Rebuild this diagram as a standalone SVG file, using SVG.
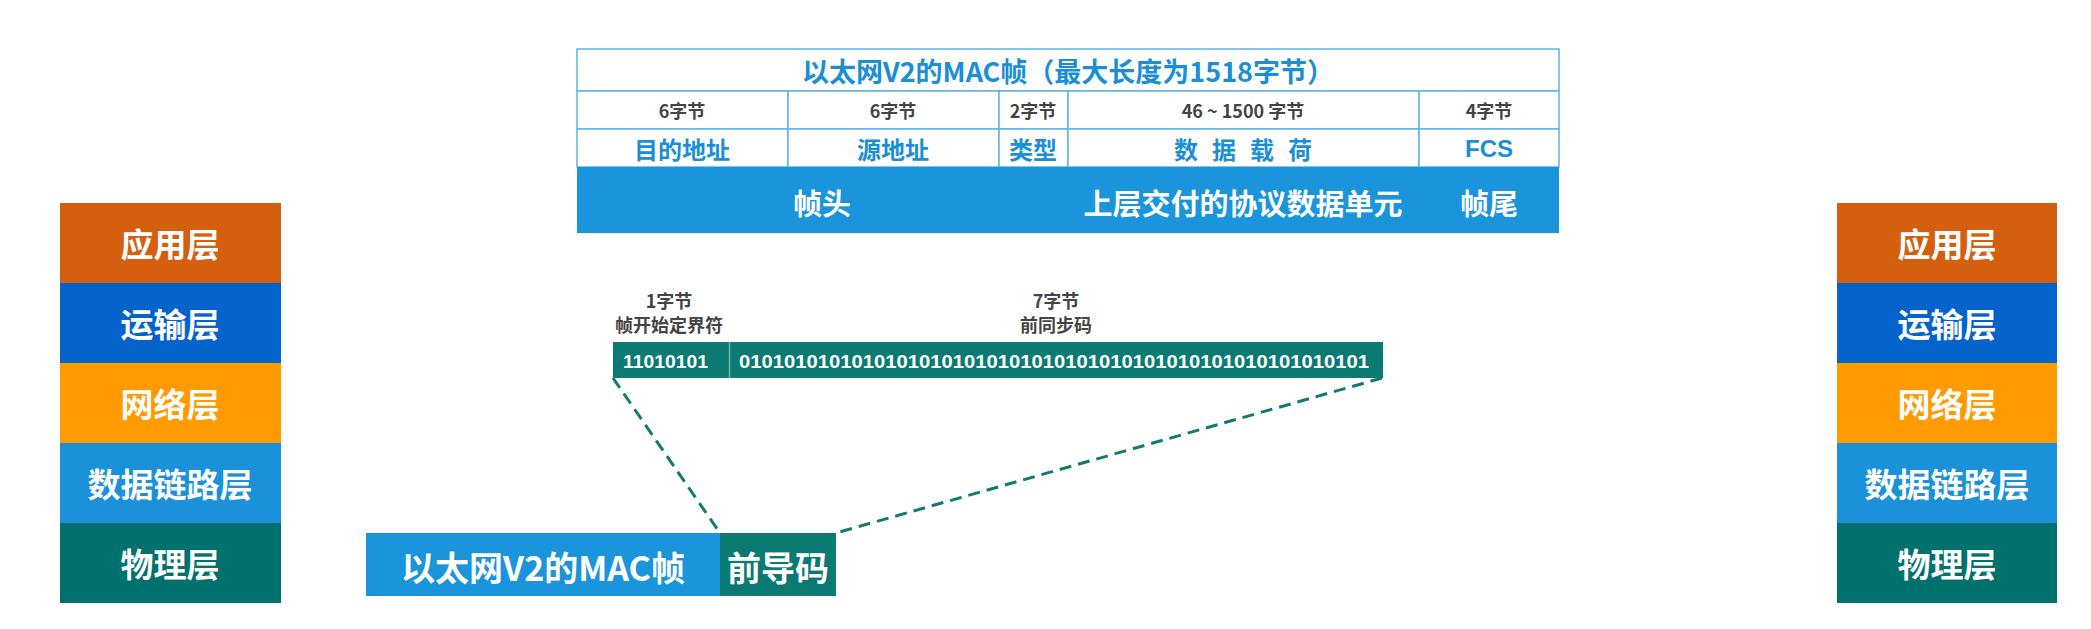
<svg xmlns="http://www.w3.org/2000/svg" width="2091" height="629" viewBox="0 0 2091 629">
<style>
.cjk{font-family:"Noto Sans CJK SC","Liberation Sans",sans-serif;font-weight:bold}
.layer{fill:#fff;font-size:33px;text-anchor:middle;dominant-baseline:central}
.w{fill:#fff;text-anchor:middle;dominant-baseline:central}
.cell{fill:#fff;stroke:#62B2E4;stroke-width:1.5}
.bytes{fill:#444;font-size:18px;text-anchor:middle;dominant-baseline:central}
.name{fill:#1A8FD6;font-size:24px;text-anchor:middle;dominant-baseline:central}
.lbl{fill:#444;font-size:18px;text-anchor:middle;dominant-baseline:central}
.bits{fill:#fff;font-size:19px;dominant-baseline:central;font-family:"Liberation Sans","Roboto",sans-serif;font-weight:bold}
.dash{stroke:#137A6E;stroke-width:3;stroke-dasharray:12 7;fill:none}
</style>
<rect width="2091" height="629" fill="#fff"/>

<g id="left-stack" class="cjk">
<rect x="60" y="203" width="221" height="80" fill="#D4600F"/>
<rect x="60" y="283" width="221" height="80" fill="#0563CC"/>
<rect x="60" y="363" width="221" height="80" fill="#FF9A00"/>
<rect x="60" y="443" width="221" height="80" fill="#1B91D9"/>
<rect x="60" y="523" width="221" height="80" fill="#00716D"/>
<text class="layer" x="170" y="243">应用层</text>
<text class="layer" x="170" y="323">运输层</text>
<text class="layer" x="170" y="403">网络层</text>
<text class="layer" x="170" y="483">数据链路层</text>
<text class="layer" x="170" y="563">物理层</text>
</g>

<g id="right-stack" class="cjk">
<rect x="1837" y="203" width="220" height="80" fill="#D4600F"/>
<rect x="1837" y="283" width="220" height="80" fill="#0563CC"/>
<rect x="1837" y="363" width="220" height="80" fill="#FF9A00"/>
<rect x="1837" y="443" width="220" height="80" fill="#1B91D9"/>
<rect x="1837" y="523" width="220" height="80" fill="#00716D"/>
<text class="layer" x="1947" y="243">应用层</text>
<text class="layer" x="1947" y="323">运输层</text>
<text class="layer" x="1947" y="403">网络层</text>
<text class="layer" x="1947" y="483">数据链路层</text>
<text class="layer" x="1947" y="563">物理层</text>
</g>

<g id="mac-frame-table" class="cjk">
<rect class="cell" x="577" y="49" width="982" height="42"/>
<rect class="cell" x="577" y="91" width="211" height="38"/>
<rect class="cell" x="788" y="91" width="211" height="38"/>
<rect class="cell" x="999" y="91" width="69" height="38"/>
<rect class="cell" x="1068" y="91" width="351" height="38"/>
<rect class="cell" x="1419" y="91" width="140" height="38"/>
<rect class="cell" x="577" y="129" width="211" height="38"/>
<rect class="cell" x="788" y="129" width="211" height="38"/>
<rect class="cell" x="999" y="129" width="69" height="38"/>
<rect class="cell" x="1068" y="129" width="351" height="38"/>
<rect class="cell" x="1419" y="129" width="140" height="38"/>
<rect x="577" y="167" width="982" height="66" fill="#1A94DB"/>
<text x="1068" y="70" fill="#1A8FD6" font-size="27" text-anchor="middle" dominant-baseline="central">以太网V2的MAC帧（最大长度为1518字节）</text>
<text class="bytes" x="682" y="110">6字节</text>
<text class="bytes" x="893" y="110">6字节</text>
<text class="bytes" x="1033" y="110">2字节</text>
<text class="bytes" x="1243" y="110" xml:space="preserve">46 ~ 1500 字节</text>
<text class="bytes" x="1489" y="110">4字节</text>
<text class="name" x="682" y="148" font-size="21">目的地址</text>
<text class="name" x="893" y="148">源地址</text>
<text class="name" x="1033" y="148">类型</text>
<text class="name" x="1250" y="148" letter-spacing="14">数据载荷</text>
<text class="name" x="1489" y="148" font-size="21" font-family="Liberation Sans, sans-serif">FCS</text>
<text class="w" x="822" y="202" font-size="29">帧头</text>
<text class="w" x="1243" y="202" font-size="29">上层交付的协议数据单元</text>
<text class="w" x="1489" y="202" font-size="29">帧尾</text>
</g>

<g id="preamble" class="cjk">
<text class="lbl" x="669" y="300">1字节</text>
<text class="lbl" x="669" y="324">帧开始定界符</text>
<text class="lbl" x="1056" y="300">7字节</text>
<text class="lbl" x="1056" y="324">前同步码</text>
<rect x="613" y="342" width="770" height="36" fill="#0B7A72"/>
<line x1="729.5" y1="342" x2="729.5" y2="378" stroke="#6FB5AE" stroke-width="1.5"/>
<text class="bits" x="623" y="361" textLength="85" lengthAdjust="spacingAndGlyphs">11010101</text>
<text class="bits" x="739" y="361" textLength="630" lengthAdjust="spacingAndGlyphs">01010101010101010101010101010101010101010101010101010101</text>
</g>

<g id="bottom-frame" class="cjk">
<rect x="366" y="533" width="354" height="63" fill="#1A94DB"/>
<rect x="720" y="533" width="116" height="63" fill="#0B7A72"/>
<text class="w" x="543" y="566" font-size="34">以太网V2的MAC帧</text>
<text class="w" x="778" y="566" font-size="34">前导码</text>
</g>

<g id="connectors">
<line class="dash" x1="613" y1="378" x2="720" y2="533"/>
<line class="dash" x1="1382" y1="378" x2="836" y2="533"/>
</g>
</svg>
